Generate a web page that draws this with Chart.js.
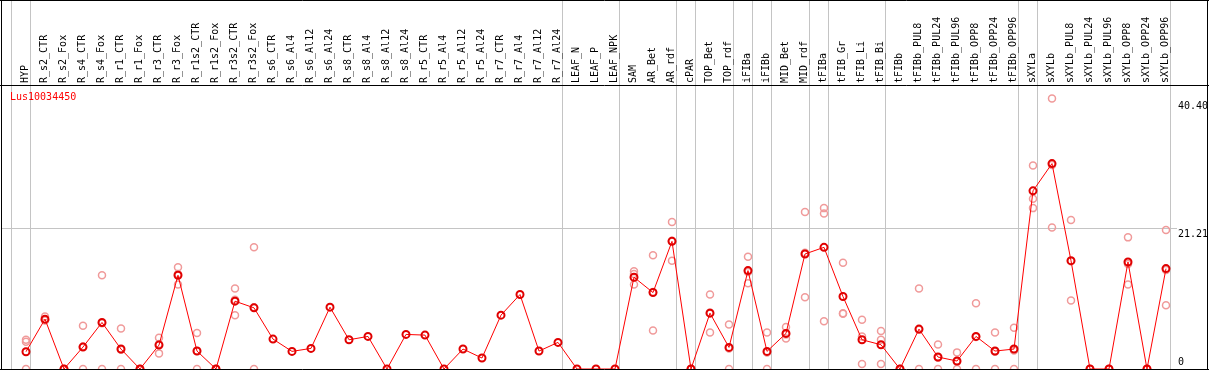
<!DOCTYPE html>
<html>
<head>
<meta charset="utf-8">
<script src="https://cdn.jsdelivr.net/npm/chart.js@4.4.0/dist/chart.umd.min.js"></script>
<style>
  html, body { margin: 0; padding: 0; background: #fff; }
  #wrap { width: 1209px; height: 370px; }
</style>
</head>
<body>
<div id="wrap"><canvas id="exprChart"></canvas></div>
<script>
// Categorías (muestras)
const categories = ['HYP', 'R_s2_CTR', 'R_s2_Fox', 'R_s4_CTR', 'R_s4_Fox', 'R_r1_CTR', 'R_r1_Fox', 'R_r3_CTR', 'R_r3_Fox',
    'R_r1s2_CTR', 'R_r1s2_Fox', 'R_r3s2_CTR', 'R_r3s2_Fox', 'R_s6_CTR', 'R_s6_Al4', 'R_s6_Al12', 'R_s6_Al24',
    'R_s8_CTR', 'R_s8_Al4', 'R_s8_Al12', 'R_s8_Al24', 'R_r5_CTR', 'R_r5_Al4', 'R_r5_Al12', 'R_r5_Al24',
    'R_r7_CTR', 'R_r7_Al4', 'R_r7_Al12', 'R_r7_Al24', 'LEAF_N', 'LEAF_P', 'LEAF_NPK', 'SAM', 'AR_Bet', 'AR_rdf',
    'cPAR', 'TOP_Bet', 'TOP_rdf', 'iFIBa', 'iFIBb', 'MID_Bet', 'MID_rdf', 'tFIBa', 'tFIB_Gr', 'tFIB_Li', 'tFIB_Bi',
    'tFIBb', 'tFIBb_PUL8', 'tFIBb_PUL24', 'tFIBb_PUL96', 'tFIBb_OPP8', 'tFIBb_OPP24', 'tFIBb_OPP96',
    'sXYLa', 'sXYLb', 'sXYLb_PUL8', 'sXYLb_PUL24', 'sXYLb_PUL96', 'sXYLb_OPP8', 'sXYLb_OPP24', 'sXYLb_OPP96'];

// Media de expresión
const meanValues = [2.6, 7.5, 0, 3.3, 7.0, 3.0, 0, 3.6, 14.1,
    2.7, 0, 10.2, 9.2, 4.5, 2.65, 3.1, 9.3,
    4.4, 4.9, 0, 5.2, 5.1, 0, 3.0, 1.65,
    8.1, 11.2, 2.7, 4.0, 0, 0, 0, 13.8, 11.5, 19.2,
    0, 8.4, 3.25, 14.8, 2.65, 5.35, 17.3, 18.3, 10.9, 4.4, 3.65,
    0, 6.0, 1.8, 1.2, 4.9, 2.7, 3.0,
    26.8, 30.9, 16.3, 0, 0, 16.1, 0, 15.1];

// Réplicas
const rep1 = [4.4, 7.9, 0, 6.5, 14.1, 6.1, 0, 4.7, 15.3,
    5.4, 0, 12.1, 18.3, null, null, null, null,
    null, null, null, null, null, null, null, null,
    null, null, null, null, null, null, null, 14.7, 17.1, 22.1,
    0, 11.2, 6.7, 16.9, 5.5, 6.3, 23.6, 24.2, 16.0, 7.4, 5.7,
    0, 12.1, 3.7, 2.5, 9.9, 5.5, 6.2,
    30.6, 40.7, 22.4, 0, 0, 19.8, 0, 20.9];
const rep2 = [4.1, 7.3, 0, 3.4, 6.9, 2.9, 0, 3.75, 14.3,
    2.7, 0, 10.4, 9.3, null, null, null, null,
    null, null, null, null, null, null, null, null,
    null, null, null, null, null, null, null, 14.3, 11.6, 19.3,
    0, 8.5, 3.1, 14.6, 2.5, 5.2, 17.5, 23.4, 8.4, 4.9, 4.4,
    0, 5.9, 1.7, 1.1, 4.8, 2.6, 2.8,
    25.6, 30.7, 16.2, 0, 0, 15.8, 0, 14.9];
const rep3 = [0, 7.4, 0, 0, 0, 0, 0, 2.35, 12.7,
    0, 0, 8.1, 0, null, null, null, null,
    null, null, null, null, null, null, null, null,
    null, null, null, null, null, null, null, 12.7, 5.8, 16.3,
    0, 5.5, 0, 12.9, 0, 4.6, 10.8, 7.2, 8.3, 0.75, 0.75,
    0, 0, 0, 0, 0, 0, 0,
    24.2, 21.3, 10.3, 0, 0, 12.7, 0, 9.6];

// Separadores de grupos (índice de la primera muestra de cada grupo)
const groupStarts = [0, 1, 29, 32, 35, 36, 38, 39, 40, 42, 43, 46, 53, 54, 61];
const yTickValues = [0, 21.21, 40.40];
const geneName = 'Lus10034450';

const toPoints = arr => arr.map((v, i) => ({ x: i, y: v }));
const monoFont = "'DejaVu Sans Mono', monospace";

// Plugin para el marco, separadores y etiquetas del eje derecho
const framePlugin = {
    id: 'frame',
    beforeDraw(chart) {
        const { ctx, width, height, scales } = chart;
        ctx.save();
        ctx.fillStyle = '#fff';
        ctx.fillRect(0, 0, width, height);
        ctx.strokeStyle = '#c4c4c4';
        ctx.lineWidth = 1;
        groupStarts.forEach(s => {
            const x = Math.round(scales.x.getPixelForValue(s - 0.78)) + 0.5;
            ctx.beginPath();
            ctx.moveTo(x, 0);
            ctx.lineTo(x, height);
            ctx.stroke();
        });
        const gy = Math.round(scales.y.getPixelForValue(21.21)) + 0.5;
        ctx.beginPath();
        ctx.moveTo(1, gy);
        ctx.lineTo(1177, gy);
        ctx.stroke();
        ctx.restore();
    },
    afterDraw(chart) {
        const { ctx, width, height, scales, chartArea } = chart;
        ctx.save();
        ctx.strokeStyle = '#000';
        ctx.lineWidth = 1;
        ctx.beginPath();
        ctx.moveTo(0, 0.5); ctx.lineTo(width, 0.5);
        ctx.moveTo(0, chartArea.top + 0.5); ctx.lineTo(width, chartArea.top + 0.5);
        ctx.moveTo(1.5, 0); ctx.lineTo(1.5, height);
        ctx.moveTo(1207.5, 0); ctx.lineTo(1207.5, height);
        ctx.moveTo(0, 369.5); ctx.lineTo(width, 369.5);
        ctx.stroke();

        ctx.font = '10px ' + monoFont;
        ctx.fillStyle = '#ff0000';
        ctx.textBaseline = 'middle';
        ctx.textAlign = 'left';
        ctx.fillText(geneName, 10, 97);

        ctx.fillStyle = '#000';
        ctx.textBaseline = 'top';
        yTickValues.forEach(v => {
            let y = scales.y.getPixelForValue(v) + 1;
            if (y > height - 13) y = height - 13;
            ctx.fillText(v === 0 ? '0' : v.toFixed(2), 1178, y);
        });
        ctx.restore();
    }
};

const repStyle = {
    showLine: false,
    borderColor: '#f09a9a',
    backgroundColor: 'rgba(255,255,255,0)',
    pointRadius: 3.5,
    pointBorderWidth: 1.5,
    clip: false
};

const ctx = document.getElementById('exprChart').getContext('2d');
const exprChart = new Chart(ctx, {
    type: 'line',
    data: {
        datasets: [{
            label: 'media',
            data: toPoints(meanValues),
            borderColor: '#ff0000',
            borderWidth: 1,
            backgroundColor: 'rgba(255,255,255,0)',
            pointBorderColor: '#e00000',
            pointRadius: 3.5,
            pointBorderWidth: 2,
            tension: 0,
            clip: false
        },
        Object.assign({ label: 'rep1', data: toPoints(rep1) }, repStyle),
        Object.assign({ label: 'rep2', data: toPoints(rep2) }, repStyle),
        Object.assign({ label: 'rep3', data: toPoints(rep3) }, repStyle)]
    },
    options: {
        responsive: true,
        maintainAspectRatio: false,
        animation: false,
        layout: { autoPadding: false, padding: { left: 2, right: 2, top: 0, bottom: 1 } },
        plugins: {
            legend: { display: false },
            tooltip: { enabled: false }
        },
        scales: {
            x: {
                type: 'linear',
                position: 'top',
                min: -1.263,
                max: 62.158,
                afterBuildTicks: scale => {
                    scale.ticks = categories.map((c, i) => ({ value: i }));
                },
                afterFit: scale => { scale.height = 85; },
                grid: { display: false, drawTicks: false },
                border: { display: false },
                ticks: {
                    autoSkip: false,
                    minRotation: 90,
                    maxRotation: 90,
                    padding: 2,
                    labelOffset: 11,
                    color: '#000',
                    font: { family: monoFont, size: 10 },
                    callback: v => categories[v]
                }
            },
            y: {
                display: false,
                min: 0,
                max: 42.72
            }
        }
    },
    plugins: [framePlugin]
});
</script>
</body>
</html>
